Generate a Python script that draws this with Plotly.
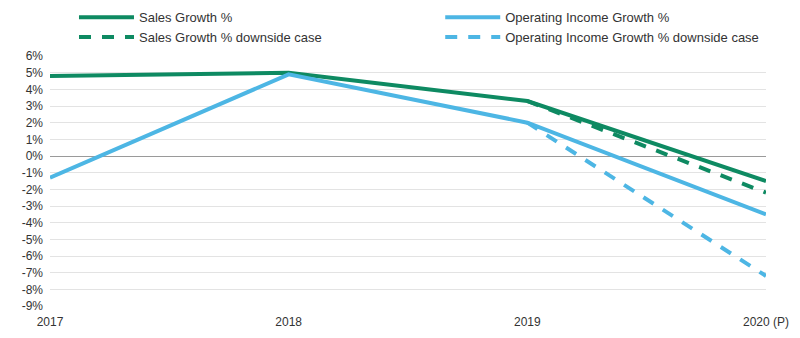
import plotly.graph_objects as go

categories = ["2017", "2018", "2019", "2020 (P)"]
sales_growth = [4.8, 5.0, 3.3, -1.5]
op_income_growth = [-1.3, 4.9, 2.0, -3.5]
downside_categories = ["2019", "2020 (P)"]
sales_downside = [3.3, -2.2]
op_income_downside = [2.0, -7.2]
y_ticks = list(range(-9, 7))
y_tick_labels = [f"{v}%" for v in y_ticks]

GREEN = "#0e8a62"
BLUE = "#4db6e4"

fig = go.Figure()
fig.add_trace(go.Scatter(x=categories, y=sales_growth, mode="lines", name="Sales Growth %",
                         line=dict(color=GREEN, width=4), legend="legend"))
fig.add_trace(go.Scatter(x=downside_categories, y=sales_downside, mode="lines", name="Sales Growth % downside case",
                         line=dict(color=GREEN, width=4, dash="12px,11px"), legend="legend"))
fig.add_trace(go.Scatter(x=categories, y=op_income_growth, mode="lines", name="Operating Income Growth %",
                         line=dict(color=BLUE, width=4), legend="legend2"))
fig.add_trace(go.Scatter(x=downside_categories, y=op_income_downside, mode="lines",
                         name="Operating Income Growth % downside case",
                         line=dict(color=BLUE, width=4, dash="12px,11px"), legend="legend2"))

legend_common = dict(orientation="v", xref="paper", yref="paper", y=1.215,
                     xanchor="left", yanchor="top", itemwidth=55,
                     font=dict(size=13, color="#333333"), tracegroupgap=0,
                     bgcolor="rgba(0,0,0,0)")

fig.update_layout(
    width=800, height=338,
    margin=dict(l=50, r=34, t=56, b=32, autoexpand=False),
    paper_bgcolor="white", plot_bgcolor="white",
    font=dict(family="Liberation Sans, Arial, sans-serif", size=12, color="#333333"),
    showlegend=True,
    legend=dict(x=0.0335, **legend_common),
    legend2=dict(x=0.545, **legend_common),
    xaxis=dict(type="category", categoryarray=categories, range=[0, 3], showgrid=False,
               showline=False, ticks="", ticklabelstandoff=7, automargin=False,
               tickfont=dict(size=12, color="#333333")),
    yaxis=dict(range=[-9, 6], tickvals=y_ticks, ticktext=y_tick_labels, showgrid=True,
               gridcolor="#e3e3e3", gridwidth=1, zeroline=True, zerolinecolor="#9a9a9a",
               zerolinewidth=1, showline=False, ticks="", ticklabelstandoff=6, automargin=False,
               tickfont=dict(size=12, color="#333333")),
    xaxis2=dict(overlaying="x", anchor="free", position=0.6, range=[0, 3], tickvals=[0, 1, 2, 3],
                showticklabels=False, ticks="outside", ticklen=4, tickcolor="#9a9a9a",
                showgrid=False, showline=False, zeroline=False, automargin=False),
)

fig.write_html("out.html")
